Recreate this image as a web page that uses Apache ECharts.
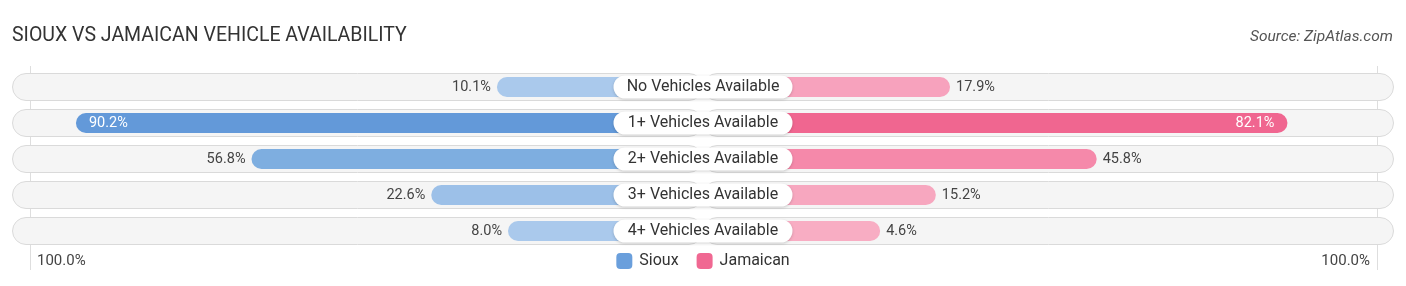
<!DOCTYPE html>
<html><head><meta charset="utf-8">
<script src="https://cdn.jsdelivr.net/npm/echarts@6/dist/echarts.min.js"></script>
<style>html,body{margin:0;padding:0;background:#fff}#c{width:1406px;height:286px}</style>
</head><body><div id="c"></div>
<script>
const categories = ['No Vehicles Available','1+ Vehicles Available','2+ Vehicles Available','3+ Vehicles Available','4+ Vehicles Available'];
const siouxValues = [10.1, 90.2, 56.8, 22.6, 8.0];
const jamaicanValues = [17.9, 82.1, 45.8, 15.2, 4.6];
const siouxColors = ['#aac9ec','#6399d9','#7eaee0','#9cc0e8','#aac9ec'];
const jamaicanColors = ['#f7a2bd','#f06690','#f589aa','#f7a7bf','#f8adc3'];
const axisEndLabels = ['100.0%','100.0%'];
const titleText = 'SIOUX VS JAMAICAN VEHICLE AVAILABILITY';
const sourceText = 'Source: ZipAtlas.com';

const OFF = 29.1;      // bar starts under the centre label
const HALF = 131.47;   // half-width of axis in % units

const chart = echarts.init(document.getElementById('c'));
const font = 'Roboto, "Noto Sans", sans-serif';
const insideThreshold = 70;

const siouxData = siouxValues.map((v,i)=>({
  value: -(v+OFF),
  itemStyle:{color: siouxColors[i]},
  label: v > insideThreshold
    ? {position:'insideLeft', distance:13, color:'#fff'}
    : {position:'left', distance:6, color:'#444'}
}));
const jamData = jamaicanValues.map((v,i)=>({
  value: v+OFF,
  itemStyle:{color: jamaicanColors[i]},
  label: v > insideThreshold
    ? {position:'insideRight', distance:13, color:'#fff'}
    : {position:'right', distance:6, color:'#444'}
}));

chart.setOption({
  animation:false,
  title:[
    {text:titleText, left:7, top:21, textStyle:{fontFamily:font, fontSize:19.5, fontWeight:'normal', color:'#333'}},
    {text:sourceText, right:8, top:24, textStyle:{fontFamily:font, fontSize:15.5, fontStyle:'italic', fontWeight:'normal', color:'#555'}}
  ],
  legend:{
    data:['Sioux','Jamaican'], left:'center', top:248, itemWidth:16, itemHeight:16, itemGap:18,
    icon:'roundRect',
    textStyle:{fontFamily:font, fontSize:16, color:'#333', padding:[0,0,0,2]}
  },
  grid:{left:12, width:1382, top:69, height:180},
  xAxis:{type:'value', min:-HALF, max:HALF, show:false},
  yAxis:[
    {type:'category', data:categories, inverse:true, show:false},
    {type:'category', data:categories, inverse:true, show:false}
  ],
  graphic:[
    {type:'line', shape:{x1:30.5,y1:66,x2:30.5,y2:270}, style:{stroke:'#dedede', lineWidth:1}, z:0},
    {type:'line', shape:{x1:1377.5,y1:66,x2:1377.5,y2:270}, style:{stroke:'#dedede', lineWidth:1}, z:0},
    {type:'text', left:37, top:254, style:{text:axisEndLabels[0], font:'15px Roboto', fill:'#444'}},
    {type:'text', right:36, top:254, style:{text:axisEndLabels[1], font:'15px Roboto', fill:'#444'}}
  ],
  series:[
    {type:'bar', yAxisIndex:1, stack:'bg', barWidth:28, silent:true, z:1,
     data:categories.map(()=>-HALF),
     itemStyle:{color:'#f5f5f5', borderColor:'#dadada', borderWidth:1, borderRadius:14}},
    {type:'bar', yAxisIndex:1, stack:'bg', barWidth:28, silent:true, z:1,
     data:categories.map(()=>HALF),
     itemStyle:{color:'#f5f5f5', borderColor:'#dadada', borderWidth:1, borderRadius:14}},
    {name:'Sioux', type:'bar', yAxisIndex:0, stack:'v', barWidth:20, z:3,
     itemStyle:{color:'#6a9fdc', borderRadius:10},
     label:{show:true, fontFamily:font, fontSize:14.5,
       formatter:p=>siouxValues[p.dataIndex].toFixed(1)+'%'},
     data:siouxData},
    {name:'Jamaican', type:'bar', yAxisIndex:0, stack:'v', barWidth:20, z:3,
     itemStyle:{color:'#f06892', borderRadius:10},
     label:{show:true, fontFamily:font, fontSize:14.5,
       formatter:p=>jamaicanValues[p.dataIndex].toFixed(1)+'%'},
     data:jamData},
    {type:'scatter', yAxisIndex:0, symbolSize:0, z:5, silent:true,
     itemStyle:{opacity:1},
     data:categories.map((c,i)=>[0,i]),
     label:{show:true, position:'inside', formatter:p=>categories[p.dataIndex],
       fontFamily:font, fontSize:16, color:'#333', backgroundColor:'#fff',
       width:155, align:'center', padding:[2,12], lineHeight:19, borderRadius:12,
       shadowColor:'rgba(0,0,0,0.18)', shadowBlur:3, shadowOffsetY:1}}
  ]
});
</script></body></html>
